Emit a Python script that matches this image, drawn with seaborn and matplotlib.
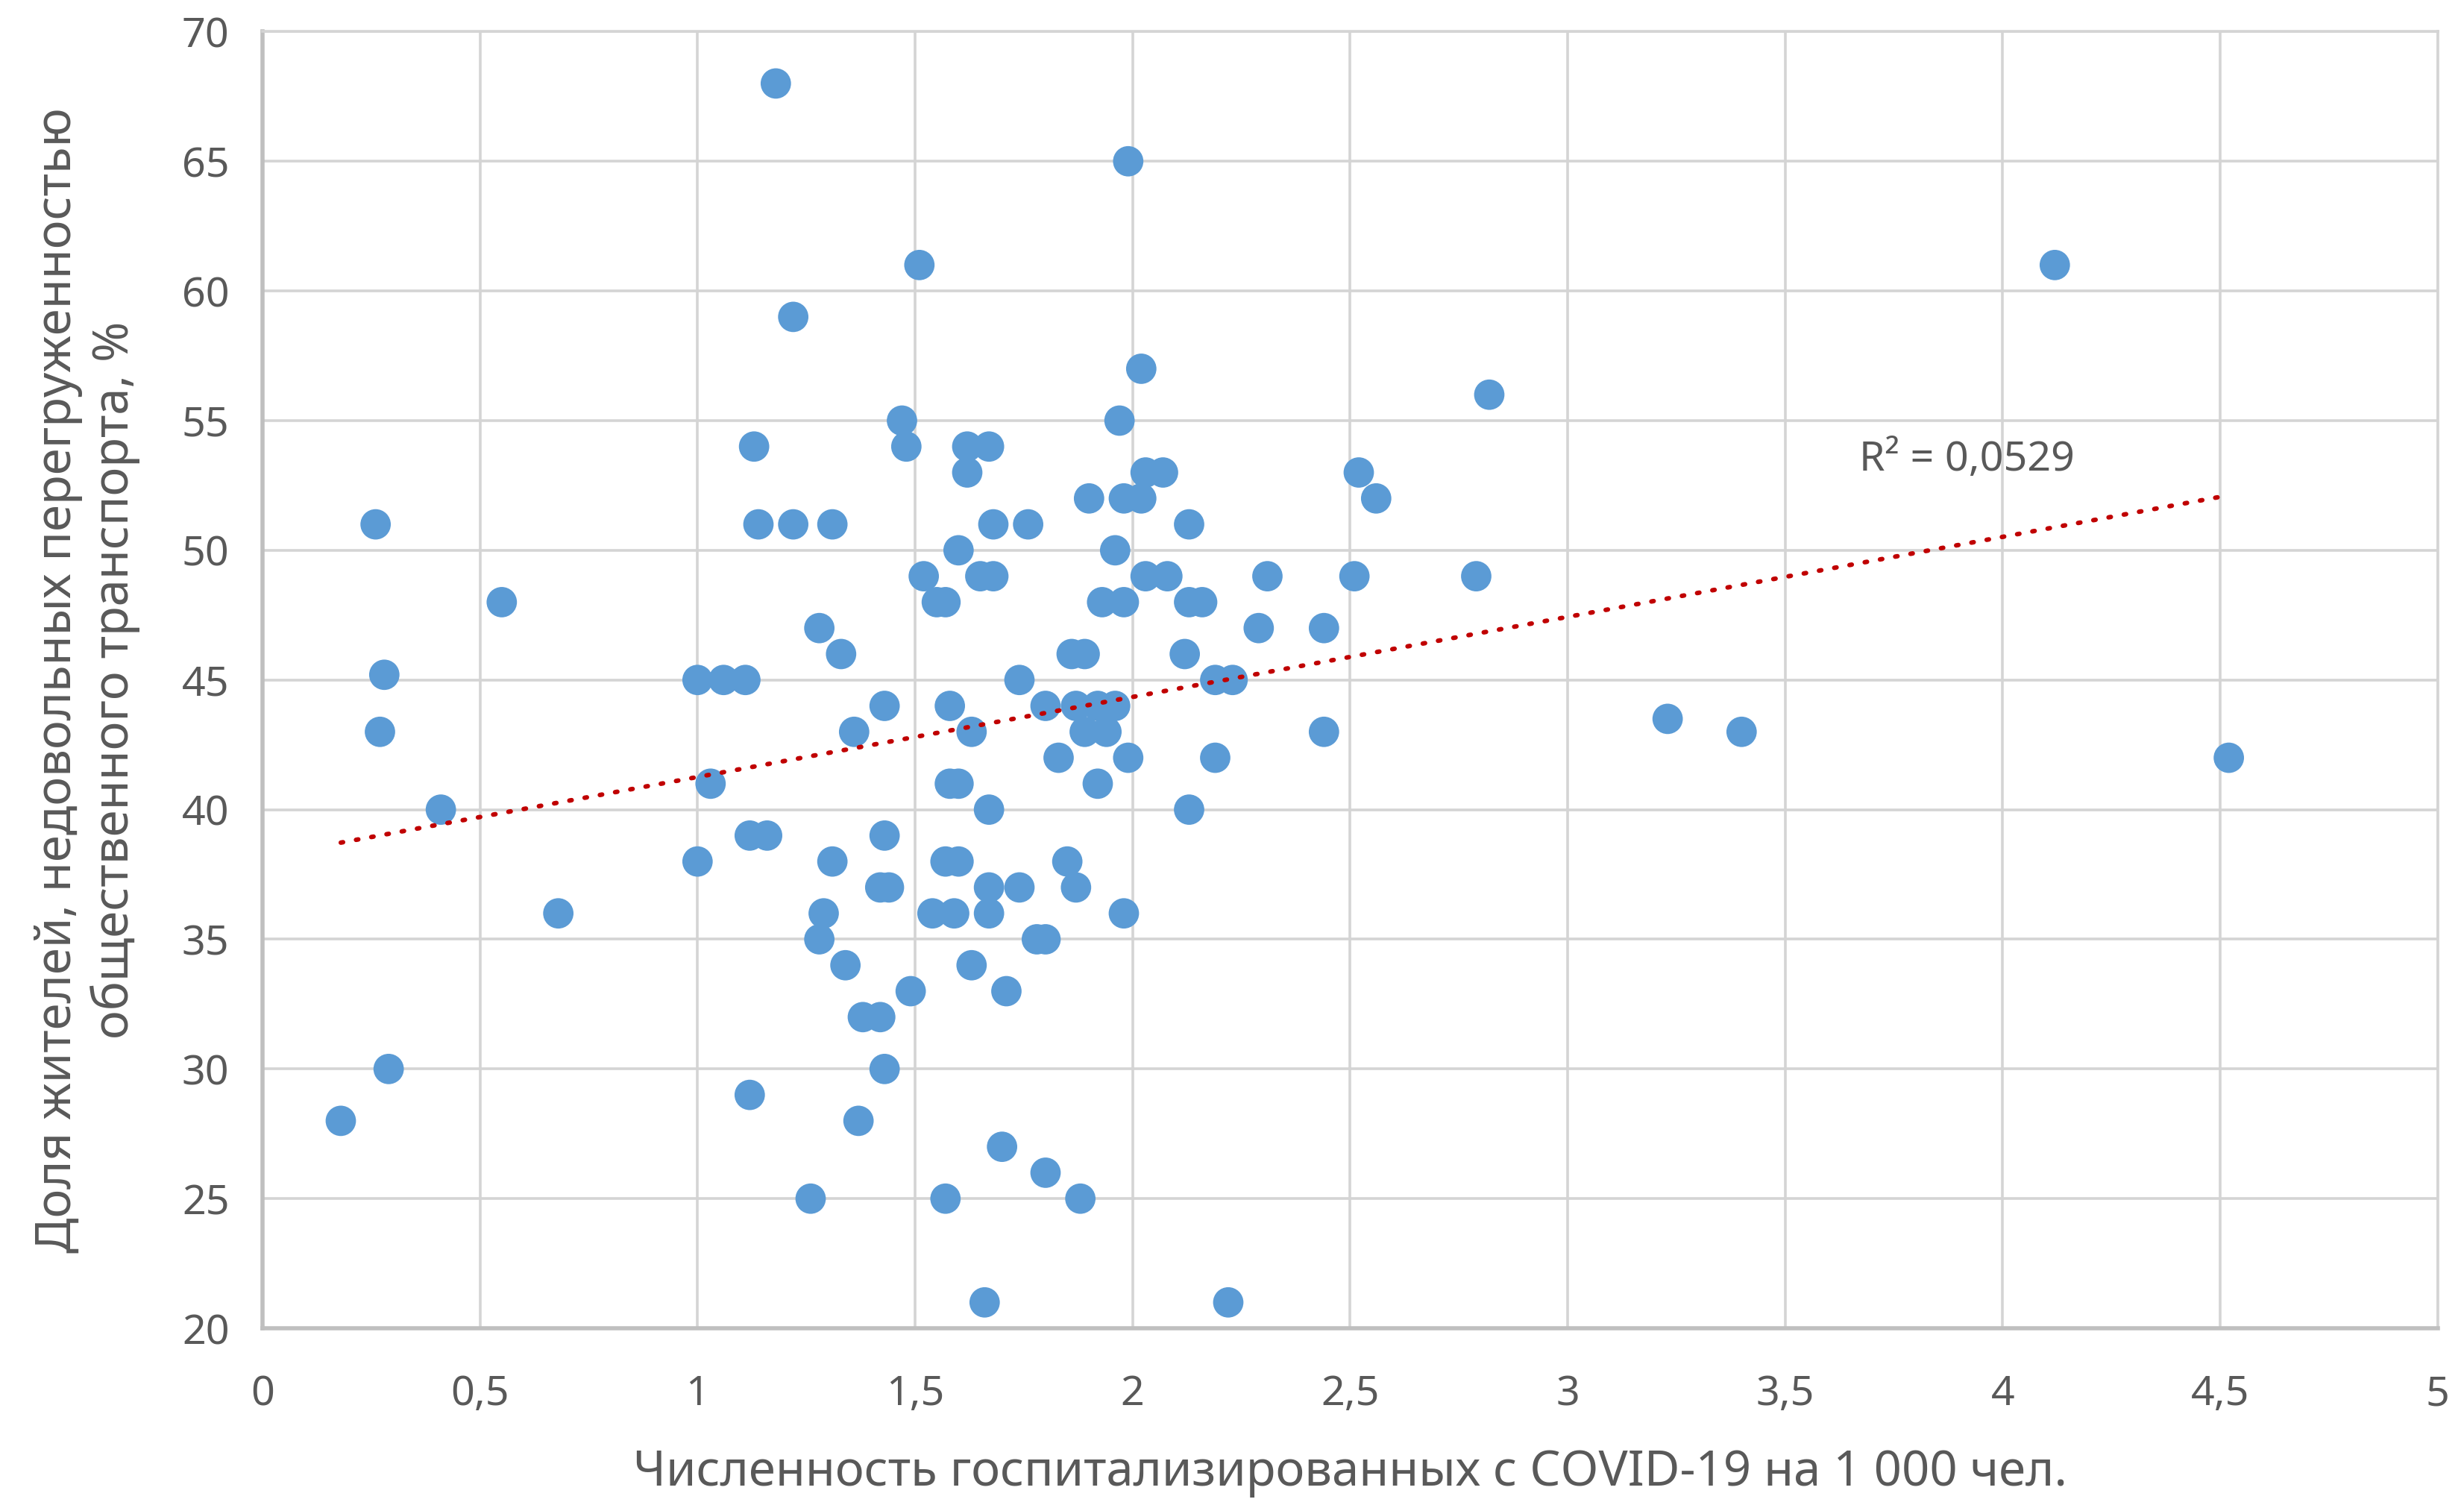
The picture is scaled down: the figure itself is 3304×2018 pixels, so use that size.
import matplotlib
matplotlib.use("Agg")
import matplotlib.pyplot as plt
import numpy as np
import pandas as pd
import seaborn as sns

# hospitalised with COVID-19 per 1000 people
hospitalized = [
    0.18, 0.26, 0.28, 0.27, 0.29, 0.41, 0.55, 0.68,
    1.00, 1.00, 1.03, 1.06, 1.11, 1.12, 1.13, 1.12, 1.16, 1.14, 1.18, 1.22, 1.22,
    1.26, 1.28, 1.28, 1.29, 1.31, 1.31, 1.33, 1.34, 1.36, 1.37, 1.38, 1.42,
    1.42, 1.44, 1.43, 1.43, 1.43, 1.47, 1.48, 1.49, 1.51, 1.52,
    1.55, 1.57, 1.54, 1.59, 1.57, 1.60, 1.57, 1.58, 1.58, 1.60, 1.60,
    1.62, 1.62, 1.63, 1.63, 1.65, 1.68, 1.67, 1.66, 1.67, 1.67, 1.67, 1.68,
    1.70, 1.71, 1.74, 1.74, 1.76, 1.78, 1.80, 1.80, 1.80, 1.83, 1.85, 1.87,
    1.86, 1.89, 1.87, 1.88, 1.90, 1.89, 1.92, 1.93, 1.92, 1.94, 1.96, 1.96,
    1.97, 1.98, 1.98, 1.99, 1.99, 1.98, 2.02, 2.02, 2.03, 2.03, 2.07, 2.08,
    2.13, 2.13, 2.12, 2.13, 2.16, 2.19, 2.19, 2.23, 2.22, 2.29, 2.31,
    2.44, 2.44, 2.52, 2.51, 2.56, 2.79, 2.82, 3.23, 3.40, 4.12, 4.52,
]
# share of residents unhappy with crowded public transport, %
unhappy = [
    28, 51, 45.2, 43, 30, 40, 48, 36,
    45, 38, 41, 45, 45, 29, 54, 39, 39, 51, 68, 59, 51,
    25, 47, 35, 36, 51, 38, 46, 34, 43, 28, 32, 32,
    37, 37, 39, 44, 30, 55, 54, 33, 61, 49,
    48, 48, 36, 36, 38, 38, 25, 44, 41, 41, 50,
    54, 53, 43, 34, 49, 49, 54, 21, 40, 37, 36, 51,
    27, 33, 45, 37, 51, 35, 35, 44, 26, 42, 38, 37,
    46, 46, 44, 25, 52, 43, 44, 48, 41, 43, 44, 50,
    55, 48, 36, 65, 42, 52, 57, 52, 53, 49, 53, 49,
    48, 51, 46, 40, 48, 42, 45, 45, 21, 47, 49,
    47, 43, 53, 49, 52, 49, 56, 43.5, 43, 61, 42,
]
x_ticks = [0, 0.5, 1, 1.5, 2, 2.5, 3, 3.5, 4, 4.5, 5]
y_ticks = [20, 25, 30, 35, 40, 45, 50, 55, 60, 65, 70]
r2_text = "R² = 0,0529"

df = pd.DataFrame({"x": hospitalized, "y": unhappy})

sns.set_theme(style="white")
plt.rcParams["font.family"] = ["Noto Sans", "DejaVu Sans"]

grey = "#595959"
fig, ax = plt.subplots(figsize=(16.525, 10.09), dpi=200)
fig.subplots_adjust(left=0.1065, right=0.989, top=0.979, bottom=0.1174)

sns.scatterplot(data=df, x="x", y="y", ax=ax, color="#5B9BD5", s=215,
                edgecolor="none", zorder=3)
sns.regplot(data=df, x="x", y="y", ax=ax, scatter=False, ci=None, truncate=True,
            line_kws=dict(color="#C00000", lw=2.2, linestyle=(0, (0.5, 2.9)),
                          dash_capstyle="round", zorder=4))

ax.set_xlim(0, 5)
ax.set_ylim(20, 70)
ax.set_xticks(x_ticks)
ax.set_yticks(y_ticks)
ax.set_xticklabels([("%g" % v).replace(".", ",") for v in x_ticks])
ax.set_yticklabels([str(v) for v in y_ticks])
ax.grid(True, color="#d4d4d4", lw=1.3)
ax.set_axisbelow(True)
ax.tick_params(axis="both", length=0, labelsize=20, colors=grey)
ax.tick_params(axis="x", pad=22)
ax.tick_params(axis="y", pad=16)

for side in ["top", "right"]:
    ax.spines[side].set_color("#d4d4d4")
    ax.spines[side].set_linewidth(1.3)
for side in ["left", "bottom"]:
    ax.spines[side].set_color("#bfbfbf")
    ax.spines[side].set_linewidth(2.0)

ax.set_xlabel("Численность госпитализированных с COVID-19 на 1 000 чел.",
              fontsize=23.5, color=grey, labelpad=16)
ax.set_ylabel("Доля жителей, недовольных перегруженностью\nобщественного транспорта, %",
              fontsize=23.5, color=grey, labelpad=20, linespacing=1.2)

ax.text(3.67, 53.5, r2_text, fontsize=20, color=grey, va="center", ha="left")

fig.savefig("out.png", dpi=200)
